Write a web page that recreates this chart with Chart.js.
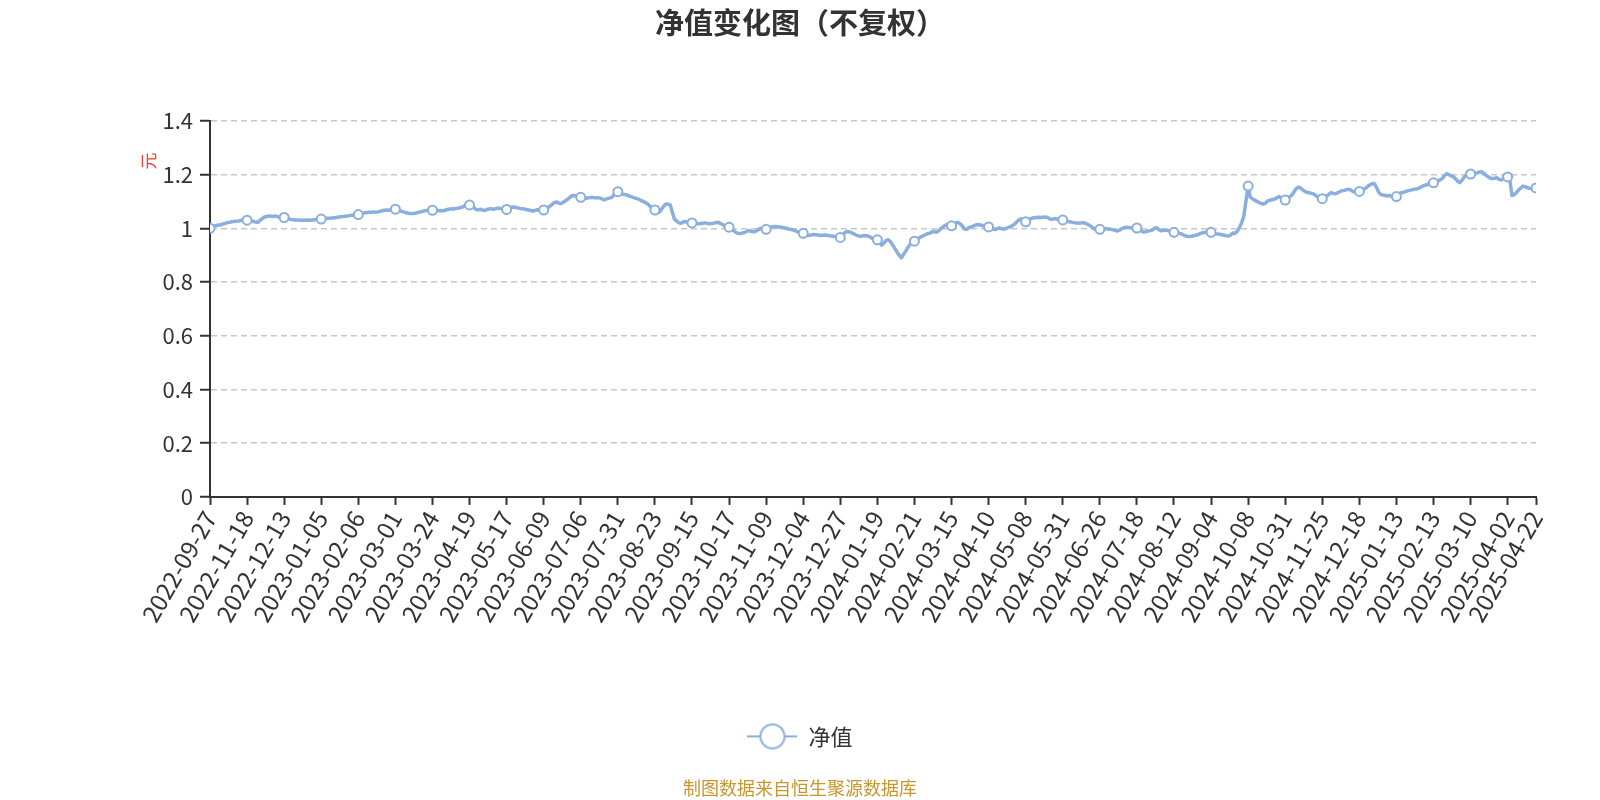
<!DOCTYPE html>
<html>
<head>
<meta charset="utf-8">
<script src="https://cdn.jsdelivr.net/npm/chart.js@4"></script>
<style>
html,body{margin:0;padding:0;background:#fff;}
#wrap{width:1600px;height:800px;}
</style>
</head>
<body>
<div id="wrap"><canvas id="c" width="1600" height="800"></canvas></div>
<script>
const chartTitle = '净值变化图（不复权）';
const seriesName = '净值';
const yUnit = '元';
const sourceNote = '制图数据来自恒生聚源数据库';

const tickLabels = ['2022-09-27','2022-11-18','2022-12-13','2023-01-05','2023-02-06','2023-03-01','2023-03-24','2023-04-19','2023-05-17','2023-06-09','2023-07-06','2023-07-31','2023-08-23','2023-09-15','2023-10-17','2023-11-09','2023-12-04','2023-12-27','2024-01-19','2024-02-21','2024-03-15','2024-04-10','2024-05-08','2024-05-31','2024-06-26','2024-07-18','2024-08-12','2024-09-04','2024-10-08','2024-10-31','2024-11-25','2024-12-18','2025-01-13','2025-02-13','2025-03-10','2025-04-02','2025-04-22'];
const tickIndex = [0,17,34,51,68,85,102,119,136,153,170,187,204,221,238,255,272,289,306,323,340,357,374,391,408,425,442,459,476,493,510,527,544,561,578,595,608];
const yTicks = [0,0.2,0.4,0.6,0.8,1,1.2,1.4];
const yTickLabels = ['0','0.2','0.4','0.6','0.8','1','1.2','1.4'];

const navValues = [
1.000,1.006,1.008,1.010,1.012,1.013,1.016,1.018,1.021,1.022,1.024,1.025,1.026,1.027,1.029,1.031,1.030,
1.030,1.029,1.027,1.025,1.023,1.022,1.030,1.036,1.042,1.044,1.046,1.045,1.044,1.046,1.043,1.041,1.040,
1.040,1.038,1.035,1.033,1.032,1.031,1.031,1.030,1.031,1.030,1.030,1.031,1.030,1.031,1.032,1.033,1.034,
1.034,1.035,1.036,1.037,1.037,1.038,1.039,1.040,1.042,1.043,1.044,1.045,1.046,1.047,1.049,1.048,1.050,
1.051,1.054,1.056,1.058,1.059,1.060,1.060,1.061,1.060,1.061,1.063,1.065,1.067,1.068,1.067,1.069,1.070,
1.071,1.069,1.066,1.063,1.060,1.058,1.056,1.055,1.055,1.056,1.058,1.060,1.062,1.064,1.066,1.067,1.067,
1.067,1.066,1.066,1.065,1.066,1.065,1.068,1.070,1.072,1.073,1.072,1.074,1.075,1.077,1.080,1.084,1.086,
1.087,1.082,1.076,1.070,1.069,1.071,1.068,1.066,1.070,1.072,1.073,1.071,1.073,1.075,1.074,1.072,1.071,
1.070,1.074,1.078,1.079,1.078,1.076,1.074,1.073,1.072,1.070,1.068,1.066,1.064,1.066,1.069,1.067,1.067,
1.068,1.072,1.077,1.083,1.090,1.096,1.098,1.093,1.092,1.097,1.102,1.108,1.115,1.121,1.122,1.119,1.116,
1.115,1.112,1.110,1.113,1.114,1.115,1.114,1.113,1.114,1.112,1.108,1.106,1.110,1.112,1.114,1.122,1.132,
1.136,1.131,1.127,1.126,1.124,1.121,1.118,1.115,1.112,1.110,1.106,1.102,1.098,1.094,1.088,1.080,1.073,
1.068,1.062,1.060,1.070,1.082,1.090,1.089,1.088,1.060,1.033,1.027,1.020,1.018,1.024,1.025,1.022,1.021,
1.020,1.019,1.018,1.017,1.018,1.019,1.020,1.018,1.017,1.018,1.019,1.021,1.022,1.018,1.014,1.008,1.005,
1.004,0.998,0.992,0.985,0.981,0.980,0.982,0.984,0.988,0.991,0.989,0.987,0.988,0.993,0.998,1.000,0.998,
0.996,0.999,1.003,1.006,1.007,1.006,1.005,1.004,1.002,1.000,0.998,0.996,0.994,0.992,0.988,0.985,0.982,
0.981,0.976,0.973,0.974,0.976,0.977,0.976,0.975,0.973,0.974,0.975,0.974,0.972,0.971,0.970,0.968,0.967,
0.966,0.975,0.983,0.988,0.987,0.984,0.980,0.976,0.972,0.970,0.971,0.973,0.972,0.970,0.966,0.960,0.958,
0.957,0.948,0.937,0.945,0.955,0.957,0.950,0.938,0.925,0.912,0.900,0.890,0.902,0.915,0.928,0.940,0.948,
0.952,0.958,0.963,0.968,0.972,0.976,0.980,0.981,0.986,0.988,0.985,0.990,0.998,1.004,1.011,1.014,1.013,
1.009,1.015,1.020,1.022,1.016,1.008,0.997,0.996,1.002,1.005,1.008,1.012,1.014,1.013,1.010,1.008,1.006,
1.005,1.000,0.997,0.995,0.999,1.001,0.998,0.997,0.999,1.003,1.006,1.010,1.016,1.024,1.032,1.035,1.028,
1.024,1.030,1.035,1.038,1.039,1.040,1.041,1.040,1.041,1.042,1.040,1.035,1.033,1.036,1.035,1.032,1.031,
1.031,1.028,1.025,1.024,1.023,1.021,1.020,1.020,1.019,1.021,1.020,1.016,1.012,1.007,1.000,0.997,0.995,
0.996,0.998,0.999,0.998,0.997,0.996,0.994,0.992,0.990,0.993,0.998,1.002,1.004,1.003,1.002,1.001,1.000,
1.001,0.996,0.990,0.986,0.987,0.990,0.991,0.993,0.999,1.002,0.995,0.991,0.992,0.993,0.992,0.989,0.986,
0.985,0.983,0.982,0.980,0.977,0.972,0.970,0.969,0.970,0.972,0.974,0.976,0.980,0.983,0.984,0.985,0.986,
0.985,0.982,0.980,0.979,0.978,0.976,0.974,0.972,0.971,0.975,0.982,0.981,0.988,1.002,1.020,1.045,1.100,
1.157,1.115,1.110,1.105,1.100,1.096,1.092,1.090,1.094,1.102,1.104,1.106,1.108,1.112,1.118,1.115,1.108,
1.105,1.110,1.117,1.123,1.135,1.147,1.153,1.150,1.143,1.137,1.134,1.132,1.130,1.128,1.122,1.116,1.110,
1.110,1.115,1.120,1.126,1.133,1.130,1.128,1.132,1.136,1.140,1.141,1.143,1.145,1.143,1.137,1.135,1.136,
1.137,1.140,1.145,1.150,1.157,1.162,1.167,1.165,1.150,1.132,1.125,1.124,1.122,1.120,1.122,1.118,1.115,
1.118,1.126,1.132,1.133,1.136,1.139,1.141,1.143,1.145,1.146,1.148,1.152,1.157,1.160,1.162,1.165,1.167,
1.169,1.172,1.176,1.180,1.185,1.195,1.203,1.200,1.195,1.192,1.185,1.176,1.170,1.178,1.190,1.198,1.201,
1.202,1.204,1.205,1.206,1.209,1.210,1.205,1.198,1.192,1.187,1.185,1.186,1.188,1.182,1.180,1.185,1.190,
1.191,1.180,1.122,1.125,1.133,1.142,1.150,1.157,1.155,1.151,1.149,1.148,1.149,1.150
];

const FONT = '"Noto Sans CJK SC", "Noto Sans", sans-serif';
const LINE = '#8aaede';
const AXIS = '#333333';

function makeLegendIcon() {
  const c = document.createElement('canvas');
  c.width = 50; c.height = 30;
  const g = c.getContext('2d');
  g.strokeStyle = LINE; g.lineWidth = 2;
  g.beginPath(); g.moveTo(0, 15); g.lineTo(50, 15); g.stroke();
  g.beginPath(); g.arc(25, 15, 12, 0, Math.PI * 2);
  g.fillStyle = '#fff'; g.fill(); g.stroke();
  return c;
}
const legendIcon = makeLegendIcon();

const unitPlugin = {
  id: 'unitLabel',
  afterDraw(chart) {
    const ctx = chart.ctx;
    const ys = chart.scales.y;
    ctx.save();
    ctx.translate(chart.chartArea.left - 61, ys.getPixelForValue(1.25));
    ctx.rotate(-Math.PI / 2);
    ctx.fillStyle = '#ff3333';
    ctx.font = '17px ' + FONT;
    ctx.textAlign = 'center';
    ctx.textBaseline = 'middle';
    ctx.fillText(yUnit, 0, 0);
    ctx.restore();
  }
};

const tickSet = new Set(tickIndex);

Chart.defaults.font.family = FONT;
Chart.defaults.color = AXIS;

new Chart(document.getElementById('c'), {
  type: 'line',
  data: {
    datasets: [{
      label: seriesName,
      data: navValues.map((v, i) => ({ x: i, y: v })),
      borderColor: LINE,
      backgroundColor: '#fff',
      borderWidth: 3.5,
      borderJoinStyle: 'round',
      tension: 0,
      pointRadius: ctx => tickSet.has(ctx.dataIndex) ? 4.5 : 0,
      pointHoverRadius: ctx => tickSet.has(ctx.dataIndex) ? 4.5 : 0,
      pointBorderWidth: 2,
      pointBackgroundColor: '#fff',
      pointBorderColor: LINE
    }]
  },
  options: {
    responsive: false,
    animation: false,
    layout: { padding: { left: 0, right: 0, top: 0, bottom: 0 } },
    plugins: {
      title: {
        display: true, text: chartTitle, color: AXIS,
        font: { size: 29, weight: 'bold', family: FONT },
        padding: { top: 6, bottom: 80 }
      },
      subtitle: {
        display: true, position: 'bottom', text: sourceNote, color: '#c9952c',
        font: { size: 18, family: FONT },
        padding: { top: 20, bottom: 1 }
      },
      legend: {
        display: true, position: 'bottom',
        labels: {
          usePointStyle: true, pointStyleWidth: 50, color: AXIS,
          font: { size: 22, family: FONT },
          generateLabels: () => [{
            text: seriesName, pointStyle: legendIcon, fillStyle: '#fff',
            strokeStyle: LINE, lineWidth: 0, hidden: false, datasetIndex: 0, fontColor: AXIS
          }]
        }
      },
      tooltip: { enabled: false }
    },
    scales: {
      x: {
        type: 'linear',
        min: 0,
        max: navValues.length - 1,
        afterBuildTicks: s => { s.ticks = tickIndex.map(v => ({ value: v })); },
        afterFit: s => { s.height = 218.5; s.paddingLeft = 0; s.paddingRight = 64; },
        ticks: {
          autoSkip: false, minRotation: 60, maxRotation: 60, padding: 1,
          color: AXIS, font: { size: 24, family: FONT },
          callback: v => tickLabels[tickIndex.indexOf(v)]
        },
        grid: { display: true, drawOnChartArea: false, drawTicks: true, tickLength: 8, tickColor: AXIS, tickWidth: 2 },
        border: { display: true, color: AXIS, width: 2 }
      },
      y: {
        min: 0, max: 1.4,
        afterBuildTicks: s => { s.ticks = yTicks.map(v => ({ value: v })); },
        afterFit: s => { s.width = 210; },
        ticks: { color: AXIS, font: { size: 22, family: FONT }, padding: 7,
          callback: v => yTickLabels[yTicks.indexOf(v)] },
        grid: {
          color: c => (c.tick && c.tick.value === 0) ? 'rgba(0,0,0,0)' : '#c8c8c8',
          lineWidth: 1.5, tickLength: 10, tickColor: AXIS, tickWidth: 2
        },
        border: { display: true, color: AXIS, width: 2, dash: [6, 4] }
      }
    }
  },
  plugins: [unitPlugin]
});
</script>
</body>
</html>
